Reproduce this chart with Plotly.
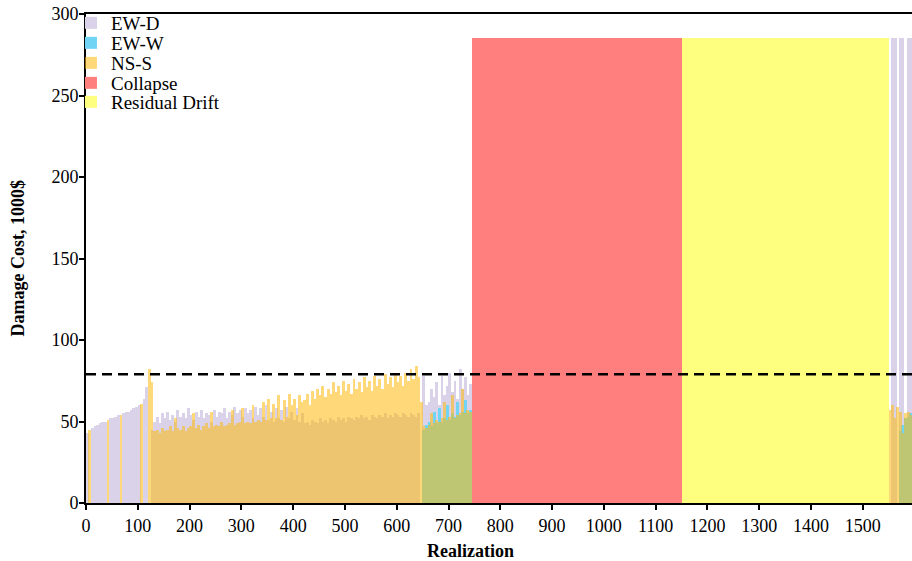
import plotly.graph_objects as go

# ---------------- data ----------------
# realizations grouped in bins of 5 (bin start values)
realization_bins = list(range(0, 745, 5)) + list(range(1550, 1595, 5))
bin_width = 5

# EW-D damage cost, 1000$
ew_d = [
    43, 0, 46, 47, 48, 49, 50, 50, 0, 52, 52, 53, 54, 0, 55, 56, 56, 57, 58, 59, 60, 0, 64, 71,
    0, 45,
    50, 53, 49, 55, 52, 56, 51, 54, 50, 57,
    53, 55, 52, 58, 54, 51, 56, 53, 57, 52,
    55, 54, 50, 57, 53, 56, 55, 58, 52, 56,
    54, 59, 55, 57, 53, 58, 55, 57, 52, 59,
    54, 58, 53, 60, 51, 56, 50, 58, 52, 57,
    50, 59, 52, 56, 51, 58, 50, 55,
    49, 50, 48, 51, 50, 49, 52, 50, 51, 49,
    52, 51, 50, 53, 51, 52, 50, 53, 52, 51,
    53, 52, 54, 52, 53, 51, 54, 53, 52, 54,
    53, 55, 52, 54, 53, 55, 54, 53, 55, 54,
    53, 55, 54, 53, 55,
    0, 78, 60,
    62, 70, 65, 74, 60, 78, 66, 72, 80, 68, 75, 64, 82, 70, 77, 66, 73,
    0, 285, 285, 0, 285, 285, 0, 285, 285,
]

# NS-S damage cost, 1000$
ns_s = [
    0, 45, 0, 0, 0, 0, 0, 0, 51, 0, 0, 0, 0, 54, 0, 0, 0, 0, 0, 0, 0, 61, 0, 0,
    82, 74,
    44, 45, 43, 46, 44, 45, 47, 44, 52, 46,
    45, 47, 44, 46, 47, 55, 46, 48, 45, 47,
    49, 46, 56, 47, 48, 47, 50, 47, 48, 49,
    57, 48, 49, 50, 58, 49, 50, 49, 60, 50,
    51, 50, 62, 51, 64, 52, 61, 52, 66, 51,
    63, 53, 67, 60, 64, 54, 66, 62,
    63, 67, 60, 69, 64, 70, 66, 72, 65, 70,
    67, 74, 68, 72, 66, 75, 69, 73, 67, 76,
    70, 74, 68, 77, 71, 75, 69, 78, 72, 76,
    70, 79, 73, 77, 71, 79, 74, 78, 72, 80,
    75, 82, 76, 84, 77,
    62, 47, 46,
    48, 55, 49, 51, 50, 52, 62, 51, 53, 66, 52, 54, 55, 70, 55, 57, 56,
    57, 60, 52, 59, 56, 43, 55, 56, 54,
]

# EW-W damage cost, 1000$ (only bins where it is present)
ew_w_bins = list(range(650, 745, 5)) + list(range(1570, 1595, 5))
ew_w = [
    45, 48,
    50, 47, 56, 49, 58, 50, 52, 60, 51, 55, 53, 62, 54, 56, 63, 55, 57,
    44, 48, 52, 53, 55,
]

# realizations with collapse / residual drift (replacement cost)
collapse_range = [745, 1150]
residual_range = [1150, 1550]
replacement_cost = 285

threshold = 79  # dashed line

x_ticks = list(range(0, 1600, 100))
y_ticks = list(range(0, 301, 50))

assert len(ew_d) == len(realization_bins) == len(ns_s)
assert len(ew_w) == len(ew_w_bins)

# ---------------- figure ----------------
SERIF = "Liberation Serif, Times New Roman, serif"
BAR_W = bin_width + 0.6   # slight overlap hides anti-aliasing seams
BAR_OFF = -0.3

fig = go.Figure()
fig.add_trace(go.Bar(name="EW-D", x=realization_bins, y=ew_d, width=BAR_W, offset=BAR_OFF,
                     marker=dict(color="#D9D2E8", line=dict(width=0)),
                     legend="legend", showlegend=True))
fig.add_trace(go.Bar(name="EW-W", x=ew_w_bins, y=ew_w, width=BAR_W, offset=BAR_OFF,
                     marker=dict(color="#70D5F4", line=dict(width=0)),
                     legend="legend2", showlegend=True))
fig.add_trace(go.Bar(name="NS-S", x=realization_bins, y=ns_s, width=BAR_W, offset=BAR_OFF,
                     marker=dict(color="rgb(255,186,13)", line=dict(width=0)), opacity=0.55,
                     legend="legend3", showlegend=True))
fig.add_trace(go.Bar(name="Collapse", x=[collapse_range[0]], y=[replacement_cost],
                     width=[collapse_range[1] - collapse_range[0]], offset=0,
                     marker=dict(color="#FF7F7F", line=dict(width=0)),
                     legend="legend4", showlegend=True))
fig.add_trace(go.Bar(name="Residual Drift", x=[residual_range[0]], y=[replacement_cost],
                     width=[residual_range[1] - residual_range[0]], offset=0,
                     marker=dict(color="#FFFF7F", line=dict(width=0)),
                     legend="legend5", showlegend=True))

fig.add_shape(type="line", xref="paper", x0=0, x1=1, yref="y", y0=threshold, y1=threshold,
              line=dict(color="black", width=2.5, dash="10px,6px"), layer="above")

def leg(py):
    return dict(x=-0.0182, y=(503 - py) / 489, xanchor="left", yanchor="middle",
                bgcolor="rgba(0,0,0,0)", borderwidth=0,
                font=dict(family=SERIF, size=19, color="black"))

fig.update_layout(
    width=912, height=561,
    margin=dict(l=86, r=0, t=14, b=58, autoexpand=False),
    paper_bgcolor="white", plot_bgcolor="white",
    barmode="overlay", bargap=0,
    showlegend=True,
    font=dict(family=SERIF, size=18, color="black"),
    legend=leg(23), legend2=leg(43), legend3=leg(63), legend4=leg(83), legend5=leg(102),
    xaxis=dict(range=[0, 1595], tickvals=x_ticks, ticks="outside", ticklen=5, tickwidth=1.5,
               tickcolor="black", showline=True, linewidth=2, linecolor="black", mirror=True,
               showgrid=False, zeroline=False, automargin=False,
               tickfont=dict(family=SERIF, size=18)),
    yaxis=dict(range=[0, 300], tickvals=y_ticks, ticks="outside", ticklen=5, tickwidth=1.5,
               tickcolor="black", showline=True, linewidth=2, linecolor="black",
               showgrid=False, zeroline=False, automargin=False, ticklabelstandoff=-3,
               tickfont=dict(family=SERIF, size=18)),
    annotations=[
        dict(text="<b>Realization</b>", xref="paper", yref="paper", x=0.465, y=-0.098,
             xanchor="center", yanchor="middle", showarrow=False,
             font=dict(family=SERIF, size=18, color="black")),
        dict(text="<b>Damage Cost, 1000$</b>", xref="paper", yref="paper", x=-0.0835, y=0.5,
             xanchor="center", yanchor="middle", textangle=-90, showarrow=False,
             font=dict(family=SERIF, size=18, color="black")),
    ],
)

fig.write_html("out.html", config={"displayModeBar": False},
               post_script="document.body.style.margin='0';document.body.style.padding='0';")
